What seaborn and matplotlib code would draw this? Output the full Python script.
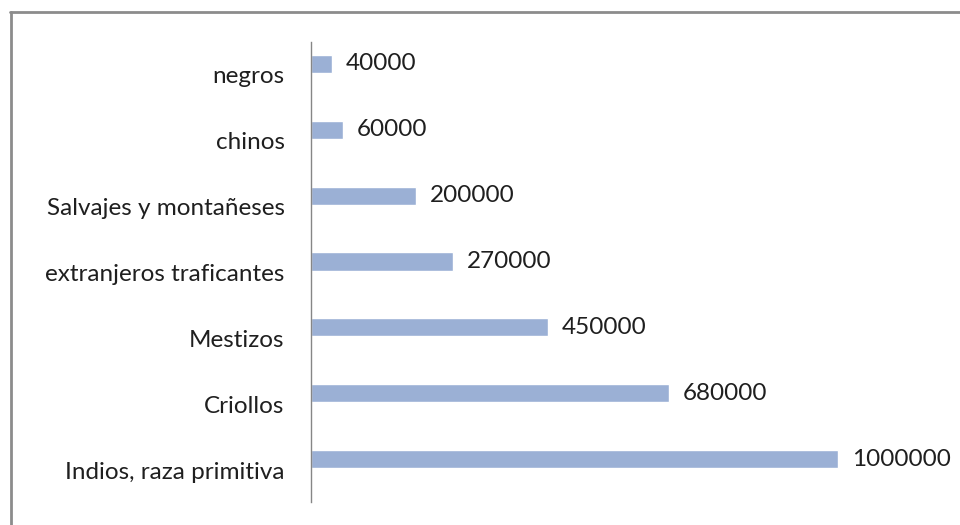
import matplotlib
matplotlib.use('Agg')
import matplotlib.pyplot as plt
from matplotlib.lines import Line2D
import seaborn as sns
import pandas as pd

categories = ['negros', 'chinos', 'Salvajes y montañeses', 'extranjeros traficantes',
              'Mestizos', 'Criollos', 'Indios, raza primitiva']
values = [40000, 60000, 200000, 270000, 450000, 680000, 1000000]

sns.set_theme(style='white')
plt.rcParams['font.family'] = ['Lato', 'DejaVu Sans']

W, H = 960, 525
fig = plt.figure(figsize=(W / 100, H / 100), dpi=100)
fig.patch.set_facecolor('white')

ax = fig.add_axes([311 / W, (H - 502) / H, (943 - 311) / W, 460 / H])
df = pd.DataFrame({'cat': categories, 'val': values})
sns.barplot(data=df, y='cat', x='val', color='#9BB0D5', width=0.275,
            saturation=1, orient='h', ax=ax)

ax.set_xlim(0, 1200000)
ax.set_ylim(6.653, -0.334)
# category labels sit at slot centres, slightly below the bars (Excel style)
ax.set_yticks([i + 0.167 for i in range(len(categories))])
ax.set_yticklabels(categories)
ax.set_xlabel('')
ax.set_ylabel('')
ax.xaxis.set_visible(False)
for s in ['top', 'right', 'bottom']:
    ax.spines[s].set_visible(False)
ax.spines['left'].set_color('#868686')
ax.spines['left'].set_linewidth(1)
ax.tick_params(axis='y', length=0, pad=19, labelsize=17.5, labelcolor='#1f1f1f')
ax.set_facecolor('white')

ax.bar_label(ax.containers[0], labels=[str(v) for v in values], padding=10,
             fontsize=17.5, color='#1f1f1f')

# outer chart frame (partially visible)
fig.add_artist(Line2D([11 / W, 11 / W], [0, (H - 12) / H], color='#8c8c8c', lw=2,
                      transform=fig.transFigure))
fig.add_artist(Line2D([10 / W, 1], [(H - 12) / H, (H - 12) / H], color='#8c8c8c', lw=2,
                      transform=fig.transFigure))

fig.savefig('out.png', dpi=100)
